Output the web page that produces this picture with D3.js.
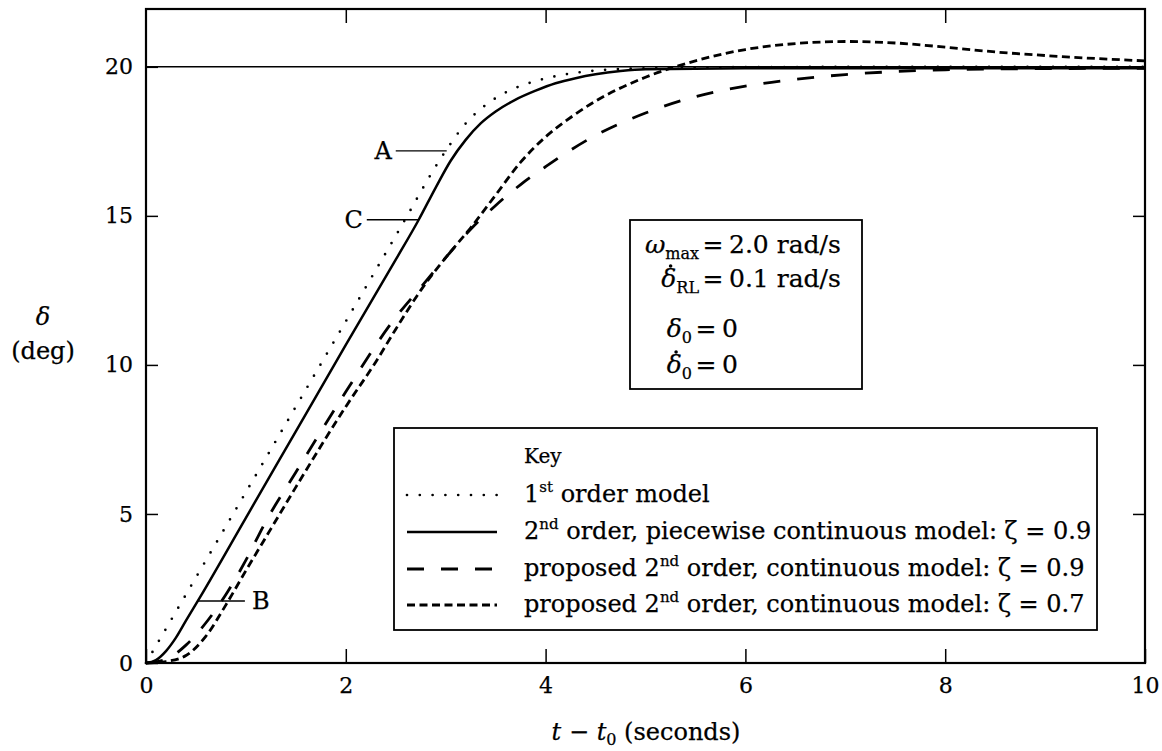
<!DOCTYPE html>
<html>
<head>
<meta charset="utf-8">
<script src="https://cdn.jsdelivr.net/npm/d3@7"></script>
<style>
  body { margin: 0; background: #fff; }
  svg { display: block; }
  text { font-family: "DejaVu Serif", serif; fill: #000; stroke: #000; stroke-width: 0.25px; }
</style>
</head>
<body>
<svg id="chart" width="1162" height="751"></svg>
<script>
// Axis ticks
const xTicks = [0, 2, 4, 6, 8, 10];
const yTicks = [0, 5, 10, 15, 20];

// 1st order model (rate limited, then exponential)
const firstOrderT = [0, 0.5, 1, 1.5, 2, 2.5, 3.0, 3.2, 3.4, 3.6, 3.8, 4.0, 4.3, 4.6, 5, 6, 8, 10];
const firstOrderD = [0, 2.87, 5.73, 8.6, 11.46, 14.33, 17.18, 18.1, 18.72, 19.14, 19.42, 19.61, 19.8, 19.9, 19.95, 19.99, 20, 20];

// 2nd order, piecewise continuous model, zeta = 0.9
const piecewiseT = [0, 0.1, 0.2, 0.3, 0.4, 0.54, 1.0, 1.5, 2.0, 2.5, 2.73, 2.9, 3.05, 3.2, 3.35, 3.5, 3.7, 3.9, 4.1, 4.3, 4.5, 4.75, 5, 6, 8, 10];
const piecewiseD = [0, 0.1, 0.4, 0.85, 1.42, 2.2, 4.87, 7.77, 10.67, 13.53, 14.87, 15.95, 16.85, 17.55, 18.1, 18.5, 18.9, 19.2, 19.45, 19.62, 19.75, 19.86, 19.92, 19.95, 19.95, 19.95];

// proposed 2nd order, continuous model, zeta = 0.9
const proposed09T = [0, 0.2, 0.4, 0.6, 0.8, 1.0, 1.2, 1.5, 2.0, 2.5, 2.75, 3.0, 3.25, 3.5, 3.75, 4.0, 4.5, 5.0, 5.5, 6, 6.5, 7, 7.5, 8, 9, 10];
const proposed09D = [0, 0.12, 0.6, 1.35, 2.3, 3.45, 4.75, 6.4, 9.1, 11.6, 12.6, 13.6, 14.55, 15.35, 16.05, 16.65, 17.7, 18.45, 19.0, 19.35, 19.58, 19.74, 19.84, 19.9, 19.94, 19.95];

// proposed 2nd order, continuous model, zeta = 0.7
const proposed07T = [0, 0.2, 0.4, 0.6, 0.8, 1.0, 1.25, 1.5, 2.0, 2.3, 2.5, 2.75, 3.0, 3.25, 3.5, 3.75, 4.0, 4.25, 4.5, 5.0, 5.5, 6, 6.5, 7, 7.5, 8, 8.5, 9, 9.5, 10];
const proposed07D = [0, 0.05, 0.25, 0.9, 1.95, 3.1, 4.5, 5.9, 8.6, 10.1, 11.2, 12.5, 13.6, 14.6, 15.7, 16.8, 17.65, 18.3, 18.85, 19.65, 20.2, 20.58, 20.78, 20.85, 20.8, 20.66, 20.5, 20.38, 20.28, 20.2];

// Key entries
const keyTitle = "Key";
const keyLabels = [
  [{t: "1"}, {t: "st", sup: true}, {t: " order model"}],
  [{t: "2"}, {t: "nd", sup: true}, {t: " order, piecewise continuous model: ζ = 0.9"}],
  [{t: "proposed 2"}, {t: "nd", sup: true}, {t: " order, continuous model: ζ = 0.9"}],
  [{t: "proposed 2"}, {t: "nd", sup: true}, {t: " order, continuous model: ζ = 0.7"}]
];

const svg = d3.select("#chart");
const x = d3.scaleLinear().domain([0, 10]).range([146, 1145]);
const y = d3.scaleLinear().domain([0, 21.94]).range([663, 9]);

const styles = [
  {t: firstOrderT, d: firstOrderD, dash: "0 12.8", width: 2.7, cap: "round"},
  {t: piecewiseT, d: piecewiseD, dash: null, width: 2.5, cap: "butt"},
  {t: proposed09T, d: proposed09D, dash: "17 17", width: 2.8, cap: "butt"},
  {t: proposed07T, d: proposed07D, dash: "8 4.5", width: 2.8, cap: "butt"}
];

// Reference level at 20 deg
svg.append("line")
  .attr("x1", x(0)).attr("x2", x(10))
  .attr("y1", y(20)).attr("y2", y(20))
  .attr("stroke", "#000").attr("stroke-width", 1.5);

// Curves
const line = d3.line()
  .x(p => x(p[0]))
  .y(p => y(p[1]))
  .curve(d3.curveMonotoneX);

styles.forEach(s => {
  const pts = s.t.map((t, i) => [t, s.d[i]]);
  svg.append("path")
    .attr("d", line(pts))
    .attr("fill", "none")
    .attr("stroke", "#000")
    .attr("stroke-width", s.width)
    .attr("stroke-linecap", s.cap)
    .attr("stroke-dasharray", s.dash);
});

// Axes: ticks point inward on all four sides
const fontSize = 24;
const tickFont = 22;
const axisBottomG = svg.append("g").attr("transform", `translate(0,${y(0)})`)
  .call(d3.axisBottom(x).tickValues(xTicks).tickSizeInner(-14).tickSizeOuter(0).tickPadding(14).tickFormat(d3.format("d")));
const axisLeftG = svg.append("g").attr("transform", `translate(${x(0)},0)`)
  .call(d3.axisLeft(y).tickValues(yTicks).tickSizeInner(-12).tickSizeOuter(0).tickPadding(13).tickFormat(d3.format("d")));
const axisTopG = svg.append("g").attr("transform", `translate(0,${y(21.94)})`)
  .call(d3.axisTop(x).tickValues(xTicks.slice(1, -1)).tickSizeInner(-14).tickSizeOuter(0).tickFormat(""));
const axisRightG = svg.append("g").attr("transform", `translate(${x(10)},0)`)
  .call(d3.axisRight(y).tickValues(yTicks.slice(1)).tickSizeInner(-12).tickSizeOuter(0).tickFormat(""));

[axisBottomG, axisLeftG, axisTopG, axisRightG].forEach(g => {
  g.select(".domain").remove();
  g.selectAll(".tick line").attr("stroke", "#000").attr("stroke-width", 1.5);
  g.selectAll("text").attr("font-family", "DejaVu Serif").attr("font-size", tickFont).attr("fill", "#000");
});

// Plot frame
svg.append("rect")
  .attr("x", x(0)).attr("y", y(21.94))
  .attr("width", x(10) - x(0)).attr("height", y(0) - y(21.94))
  .attr("fill", "none").attr("stroke", "#000").attr("stroke-width", 2.2);

// Axis titles
svg.append("text").attr("x", 646).attr("y", 740).attr("text-anchor", "middle").attr("font-size", fontSize)
  .call(t => {
    t.append("tspan").attr("font-style", "italic").text("t");
    t.append("tspan").text(" − ");
    t.append("tspan").attr("font-style", "italic").text("t");
    t.append("tspan").attr("font-size", 16).attr("dy", 5).text("0");
    t.append("tspan").attr("dy", -5).text("  (seconds)");
  });
svg.append("text").attr("x", 43).attr("y", 325).attr("text-anchor", "middle").attr("font-size", fontSize)
  .attr("font-style", "italic").text("δ");
svg.append("text").attr("x", 43).attr("y", 359).attr("text-anchor", "middle").attr("font-size", fontSize)
  .text("(deg)");

// Point annotations A, B, C
const annotations = [
  {label: "A", d: 17.18, t0: 2.5, t1: 3.01, side: "left"},
  {label: "C", d: 14.87, t0: 2.21, t1: 2.73, side: "left"},
  {label: "B", d: 2.08, t0: 0.52, t1: 0.99, side: "right"}
];
annotations.forEach(a => {
  svg.append("line")
    .attr("x1", x(a.t0)).attr("x2", x(a.t1))
    .attr("y1", y(a.d)).attr("y2", y(a.d))
    .attr("stroke", "#000").attr("stroke-width", 1.3);
  svg.append("text")
    .attr("x", a.side === "left" ? x(a.t0) - 4 : x(a.t1) + 7)
    .attr("y", y(a.d) + 8)
    .attr("text-anchor", a.side === "left" ? "end" : "start")
    .attr("font-size", fontSize)
    .text(a.label);
});

// Parameter box
const paramFont = 25;
svg.append("rect").attr("x", 630).attr("y", 220).attr("width", 232).attr("height", 169)
  .attr("fill", "#fff").attr("stroke", "#000").attr("stroke-width", 1.8);
const params = [
  {eqX: 713, y: 253, lhs: [{t: "ω", it: true}, {t: "max", sub: true}], rhs: "2.0 rad/s", dot: false},
  {eqX: 713, y: 287, lhs: [{t: "δ", it: true}, {t: "RL", sub: true}], rhs: "0.1 rad/s", dot: true},
  {eqX: 706, y: 337, lhs: [{t: "δ", it: true}, {t: "0", sub: true}], rhs: "0", dot: false},
  {eqX: 706, y: 373, lhs: [{t: "δ", it: true}, {t: "0", sub: true}], rhs: "0", dot: true}
];
params.forEach(p => {
  const l = svg.append("text").attr("x", p.eqX - 14).attr("y", p.y).attr("text-anchor", "end").attr("font-size", paramFont);
  p.lhs.forEach(s => {
    const ts = l.append("tspan").text(s.t);
    if (s.it) ts.attr("font-style", "italic");
    if (s.sub) ts.attr("font-size", 16).attr("dy", 6);
  });
  if (p.dot) {
    // time-derivative dot over the delta
    const ext = l.node().getExtentOfChar(0);
    svg.append("circle")
      .attr("cx", ext.x + ext.width * 0.62)
      .attr("cy", p.y - 21)
      .attr("r", 1.8).attr("fill", "#000");
  }
  svg.append("text").attr("x", p.eqX).attr("y", p.y).attr("text-anchor", "middle").attr("font-size", paramFont).text("=");
  svg.append("text").attr("x", p.eqX + 16).attr("y", p.y).attr("font-size", paramFont).text(p.rhs);
});

// Key box
svg.append("rect").attr("x", 394).attr("y", 428).attr("width", 703).attr("height", 202)
  .attr("fill", "#fff").attr("stroke", "#000").attr("stroke-width", 1.8);
svg.append("text").attr("x", 524).attr("y", 463).attr("font-family", "DejaVu Sans").attr("font-size", 20).text(keyTitle);
const keyY = [502, 539, 576, 612];
keyLabels.forEach((parts, i) => {
  const s = styles[i];
  svg.append("line")
    .attr("x1", 407).attr("x2", s.dash === "17 17" ? 499 : 497)
    .attr("y1", keyY[i] - 7).attr("y2", keyY[i] - 7)
    .attr("stroke", "#000").attr("stroke-width", s.width)
    .attr("stroke-linecap", s.cap)
    .attr("stroke-dasharray", s.dash);
  const tx = svg.append("text").attr("x", 524).attr("y", keyY[i]).attr("font-size", fontSize);
  parts.forEach((pt, j) => {
    const ts = tx.append("tspan").text(pt.t);
    if (pt.sup) ts.attr("font-size", 15).attr("dy", -10);
    else if (j > 0) ts.attr("dy", 10);
  });
});
</script>
</body>
</html>
